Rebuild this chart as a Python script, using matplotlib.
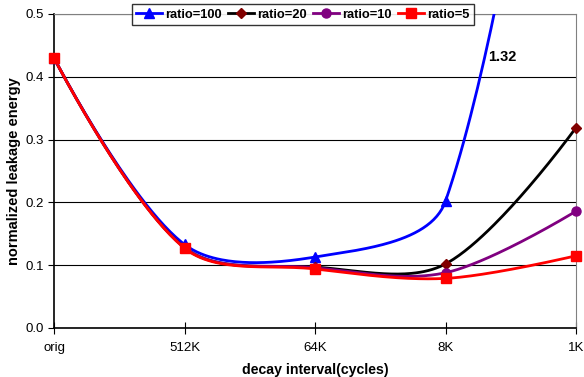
import numpy as np
import matplotlib.pyplot as plt

plt.rcParams['font.family'] = ['Liberation Sans', 'DejaVu Sans']

intervals = ["orig", "512K", "64K", "8K", "1K"]
ratio100 = [0.43, 0.133, 0.113, 0.202, 1.32]
ratio20 = [0.43, 0.128, 0.097, 0.102, 0.319]
ratio10 = [0.43, 0.128, 0.096, 0.088, 0.186]
ratio5 = [0.43, 0.127, 0.094, 0.079, 0.115]

# pixel size of one x unit / one y unit, used for the smoothing
XPX = 130.5
YPX = 628.0


def smooth(xs, ys, n=60):
    # excel-like smoothed line: bezier, handles scaled by segment lengths
    xs = np.asarray(xs, float)
    ys = np.asarray(ys, float)
    m = len(xs)
    d = np.hypot(np.diff(xs) * XPX, np.diff(ys) * YPX)
    tx = np.zeros(m)
    ty = np.zeros(m)
    for i in range(m):
        a = max(i - 1, 0)
        b = min(i + 1, m - 1)
        tx[i] = xs[b] - xs[a]
        ty[i] = ys[b] - ys[a]
    t = np.linspace(0, 1, n)
    px, py = [], []
    for i in range(m - 1):
        dp = d[i - 1] if i > 0 else d[i]
        dn = d[i + 1] if i + 1 < m - 1 else d[i]
        f1 = d[i] / (dp + d[i]) / 3 if i > 0 else 0
        f2 = d[i] / (d[i] + dn) / 3 if i + 1 < m - 1 else 0
        c1x = xs[i] + tx[i] * f1
        c1y = ys[i] + ty[i] * f1
        c2x = xs[i + 1] - tx[i + 1] * f2
        c2y = ys[i + 1] - ty[i + 1] * f2
        bx = (1 - t) ** 3 * xs[i] + 3 * (1 - t) ** 2 * t * c1x + 3 * (1 - t) * t ** 2 * c2x + t ** 3 * xs[i + 1]
        by = (1 - t) ** 3 * ys[i] + 3 * (1 - t) ** 2 * t * c1y + 3 * (1 - t) * t ** 2 * c2y + t ** 3 * ys[i + 1]
        px.extend(bx)
        py.extend(by)
    return px, py


fig = plt.figure(figsize=(5.84, 3.77), dpi=100)
ax = fig.add_axes([54 / 584, 1 - 328 / 377, 522 / 584, 314 / 377])

x = np.arange(len(intervals))
series = [
    ("ratio=100", ratio100, "#0000ff", "#0000ff", "^", 7),
    ("ratio=20", ratio20, "black", "#800000", "D", 5),
    ("ratio=10", ratio10, "#800080", "#800080", "o", 6.5),
    ("ratio=5", ratio5, "#ff0000", "#ff0000", "s", 7),
]
for label, vals, lc, mc, mk, ms in series:
    sx, sy = smooth(x, vals)
    ax.plot(sx, sy, color=lc, lw=2, zorder=3)
    ax.plot(x, vals, linestyle="none", marker=mk, color=mc, ms=ms, zorder=4, clip_on=False)
    ax.plot([], [], color=lc, lw=2, marker=mk, mfc=mc, mec=mc, ms=ms, label=label)

ax.set_xlim(0, 4)
ax.set_ylim(0, 0.5)
ax.set_xticks(x)
ax.set_xticklabels(intervals, fontsize=9.5)
ax.set_yticks(np.arange(0, 0.51, 0.1))
ax.set_yticklabels(["%.1f" % v for v in np.arange(0, 0.51, 0.1)], fontsize=9.5)
ax.tick_params(axis="x", direction="inout", length=8, pad=6)
ax.tick_params(axis="y", direction="out", length=4)
ax.grid(axis="y", color="black", lw=0.8)
ax.set_axisbelow(True)
for s in ["top", "right"]:
    ax.spines[s].set_color("#808080")
ax.spines["left"].set_linewidth(1.2)
ax.spines["bottom"].set_linewidth(1.2)

ax.set_ylabel("normalized leakage energy", fontsize=10.5, fontweight="bold", labelpad=3)
ax.set_xlabel("decay interval(cycles)", fontsize=10.2, fontweight="bold", labelpad=6.5)

ax.text(3.33, 0.425, "1.32", fontsize=10.5, fontweight="bold")

leg = ax.legend(loc="upper center", bbox_to_anchor=(0.477, 1.032), ncol=4,
                prop={"weight": "bold", "size": 9.3}, frameon=True, fancybox=False,
                handlelength=2.0, handletextpad=0.25, columnspacing=0.5,
                borderpad=0.35, borderaxespad=0)
leg.get_frame().set_edgecolor("black")
leg.get_frame().set_linewidth(1)
leg.set_zorder(5)

fig.savefig("out.png", dpi=100)
